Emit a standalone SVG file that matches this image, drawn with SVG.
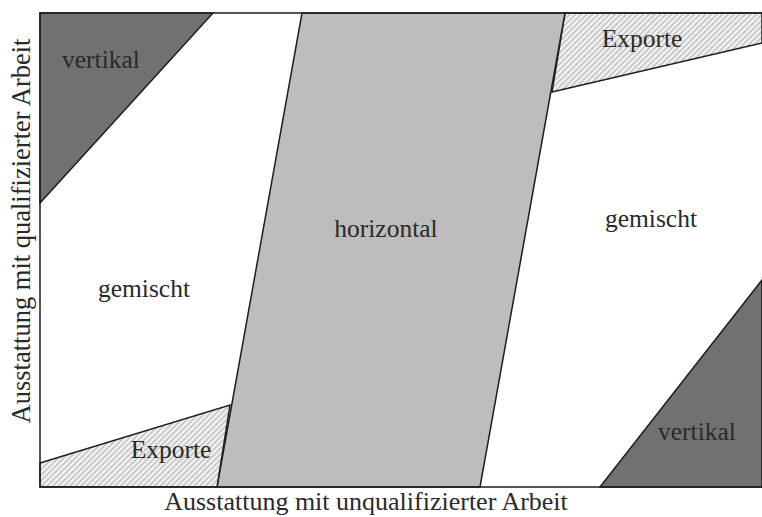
<svg xmlns="http://www.w3.org/2000/svg" width="762" height="517" viewBox="0 0 762 517">
<style>
.lbl{font-family:"Liberation Serif","Times New Roman",serif;font-size:25.5px;fill:#2a2a2a;text-anchor:middle}
.edge{stroke:#1e1e1e;stroke-width:1.5;stroke-linejoin:miter}
.dark{fill:#717171}
.band{fill:#bdbdbd}
.hatch{fill:url(#hatch)}
</style>
<defs>
<pattern id="hatch" width="4" height="4" patternUnits="userSpaceOnUse" patternTransform="rotate(45)">
<rect width="4" height="4" fill="#f4f4f4"/>
<line x1="1" y1="0" x2="1" y2="4" stroke="#a8a8a8" stroke-width="1.1"/>
</pattern>
</defs>
<rect width="762" height="517" fill="#ffffff"/>
<g id="vertikal-top">
<polygon class="dark edge" points="40,13 213,13 40,203"/>
<text class="lbl" x="101" y="68">vertikal</text>
</g>
<g id="exporte-top">
<polygon class="hatch edge" points="565,13 762,13 762,43 552,92"/>
<text class="lbl" x="642" y="47">Exporte</text>
</g>
<g id="horizontal">
<polygon class="band edge" points="302,13 565,13 480,487 217,487"/>
<text class="lbl" x="386" y="237">horizontal</text>
</g>
<g id="exporte-bottom">
<polygon class="hatch edge" points="40,463 230,405 217,487 40,487"/>
<text class="lbl" x="171" y="458">Exporte</text>
</g>
<g id="vertikal-bottom">
<polygon class="dark edge" points="600,487 762,280 762,487"/>
<text class="lbl" x="697" y="440">vertikal</text>
</g>
<g id="gemischt-left">
<text class="lbl" x="144" y="297">gemischt</text>
</g>
<g id="gemischt-right">
<text class="lbl" x="651" y="227">gemischt</text>
</g>
<g id="axes" fill="none">
<polyline class="edge" points="762,13 40,13 40,487 762,487"/>
</g>
<g id="axis-labels">
<text class="lbl" x="366" y="510" style="font-size:26px">Ausstattung mit unqualifizierter Arbeit</text>
<text class="lbl" transform="translate(30,231) rotate(-90)" x="0" y="0" style="font-size:26.5px">Ausstattung mit qualifizierter Arbeit</text>
</g>
</svg>
